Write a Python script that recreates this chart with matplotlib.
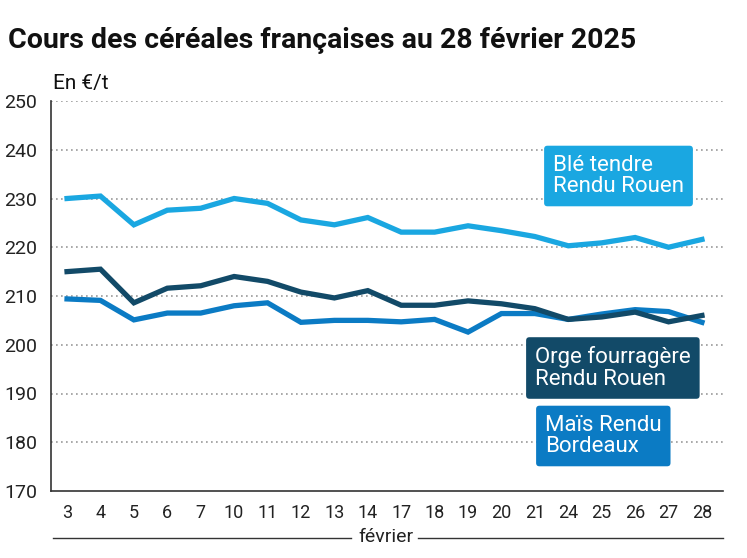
import matplotlib
matplotlib.use('Agg')
import matplotlib.pyplot as plt
from matplotlib.lines import Line2D

plt.rcParams['font.family'] = ['Roboto', 'DejaVu Sans']

jours = ['3', '4', '5', '6', '7', '10', '11', '12', '13', '14',
         '17', '18', '19', '20', '21', '24', '25', '26', '27', '28']
ble = [230.0, 230.5, 224.6, 227.6, 228.0, 230.0, 229.0, 225.6, 224.6, 226.1,
       223.1, 223.1, 224.4, 223.4, 222.2, 220.3, 220.9, 222.0, 220.0, 221.6]
orge = [215.0, 215.5, 208.6, 211.6, 212.1, 214.0, 213.0, 210.8, 209.6, 211.1,
        208.1, 208.1, 209.0, 208.4, 207.4, 205.2, 205.7, 206.7, 204.7, 206.0]
mais = [209.4, 209.1, 205.1, 206.5, 206.5, 208.0, 208.6, 204.6, 205.0, 205.0,
        204.7, 205.2, 202.6, 206.4, 206.4, 205.2, 206.3, 207.2, 206.8, 204.6]

c_ble = '#1aa7e1'
c_orge = '#124a68'
c_mais = '#0b7bc4'

W, H = 747, 558
fig = plt.figure(figsize=(W / 100, H / 100), dpi=100)
ax = fig.add_axes([51 / W, 1 - 491 / H, (723 - 51) / W, (491 - 101) / H])

x = list(range(len(jours)))
ax.plot(x, ble, color=c_ble, lw=3.8, solid_joinstyle='miter')
ax.plot(x, mais, color=c_mais, lw=3.8, solid_joinstyle='miter')
ax.plot(x, orge, color=c_orge, lw=3.8, solid_joinstyle='miter')

ax.set_xlim(-0.48, 19.63)
ax.set_ylim(170, 250)
ax.set_xticks(x)
ax.set_xticklabels(jours)
ax.set_yticks(range(170, 251, 10))
ax.tick_params(axis='both', length=0, colors='#222222')
ax.tick_params(axis='x', pad=9, labelsize=13)
ax.tick_params(axis='y', pad=10, labelsize=14)

for v in range(180, 251, 10):
    ax.axhline(v, color='#999999', lw=1.2, ls=(0, (1, 2)), zorder=0)
for s in ['top', 'right']:
    ax.spines[s].set_visible(False)
ax.spines['left'].set_color('#333333')
ax.spines['bottom'].set_color('#333333')
ax.spines['left'].set_linewidth(1.2)
ax.spines['bottom'].set_linewidth(1.2)

fig.text(8 / W, 1 - 40 / H, 'Cours des céréales françaises au 28 février 2025',
         fontsize=20.5, fontweight='bold', va='center', ha='left', color='#111111')
fig.text(53 / W, 1 - 83 / H, 'En €/t', fontsize=15, va='center', ha='left', color='#111111')

# axe "février"
fig.text(386 / W, 1 - 537 / H, 'février', fontsize=14, va='center', ha='center', color='#222222')
fig.add_artist(Line2D([53 / W, 351 / W], [1 - 538 / H] * 2, color='#333333', lw=1))
fig.add_artist(Line2D([418 / W, 723 / W], [1 - 538 / H] * 2, color='#333333', lw=1))

# étiquettes
def etiquette(txt, xl, yc, col):
    fig.text(xl / W, 1 - yc / H, txt, fontsize=16, color='white', va='center', ha='left',
             linespacing=1.05,
             bbox=dict(boxstyle='round,pad=0.4,rounding_size=0.15', fc=col, ec='none'))

etiquette('Blé tendre\nRendu Rouen', 553, 176, c_ble)
etiquette('Orge fourragère\nRendu Rouen', 535, 368, c_orge)
etiquette('Maïs Rendu\nBordeaux', 545, 436, c_mais)

fig.savefig('out.png', dpi=100)
